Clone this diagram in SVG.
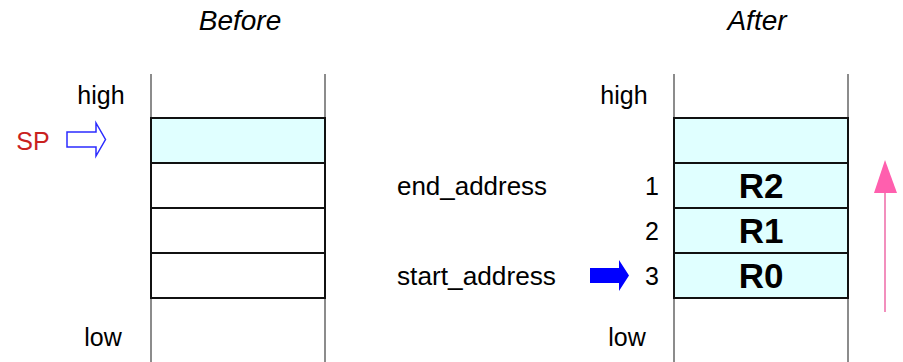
<svg xmlns="http://www.w3.org/2000/svg" width="903" height="362" viewBox="0 0 903 362">
<style>
.t{font-family:"Liberation Sans",Arial,sans-serif;font-size:25px;fill:#000}
.ti{font-family:"Liberation Sans",Arial,sans-serif;font-size:28px;font-style:italic;fill:#000}
.r{font-family:"Liberation Sans",Arial,sans-serif;font-size:35px;font-weight:bold;fill:#000}
.v{stroke:#666;stroke-width:1.5;fill:none}
.b{stroke:#111;stroke-width:2;fill:#fff}
.c{stroke:#111;stroke-width:2;fill:#e0ffff}
</style>
<rect width="903" height="362" fill="#fff"/>
<text class="ti" x="240" y="30" text-anchor="middle">Before</text>
<text class="ti" x="757" y="30" text-anchor="middle">After</text>
<g id="before-stack">
<line class="v" x1="151" y1="74" x2="151" y2="362"/>
<line class="v" x1="325" y1="74" x2="325" y2="362"/>
<rect class="c" x="151" y="118" width="174" height="45"/>
<rect class="b" x="151" y="163" width="174" height="45"/>
<rect class="b" x="151" y="208" width="174" height="45"/>
<rect class="b" x="151" y="253" width="174" height="45"/>
<text class="t" x="101" y="104" text-anchor="middle">high</text>
<text class="t" x="103" y="346" text-anchor="middle">low</text>
</g>
<g id="sp">
<text x="33" y="150" text-anchor="middle" style="font-family:'Liberation Sans',Arial,sans-serif;font-size:25px;fill:#c9211e">SP</text>
<polygon points="67,132 96,132 96,123 105.5,139.5 96,156 96,147 67,147" fill="#fff" stroke="#2b2bff" stroke-width="1.5"/>
</g>
<g id="after-stack">
<line class="v" x1="674" y1="74" x2="674" y2="362"/>
<line class="v" x1="848" y1="74" x2="848" y2="362"/>
<rect class="c" x="674" y="118" width="174" height="45"/>
<rect class="c" x="674" y="163" width="174" height="45"/>
<rect class="c" x="674" y="208" width="174" height="45"/>
<rect class="c" x="674" y="253" width="174" height="45"/>
<text class="r" x="761" y="198" text-anchor="middle">R2</text>
<text class="r" x="761" y="243" text-anchor="middle">R1</text>
<text class="r" x="761" y="288" text-anchor="middle">R0</text>
<text class="t" x="624" y="104" text-anchor="middle">high</text>
<text class="t" x="627" y="346" text-anchor="middle">low</text>
<text class="t" x="652" y="195" text-anchor="middle">1</text>
<text class="t" x="652" y="240" text-anchor="middle">2</text>
<text class="t" x="652" y="285" text-anchor="middle">3</text>
</g>
<g id="labels">
<text class="t" x="397" y="195" textLength="150" lengthAdjust="spacingAndGlyphs">end_address</text>
<text class="t" x="397" y="285" textLength="159" lengthAdjust="spacingAndGlyphs">start_address</text>
</g>
<g id="connectors">
<polygon points="590,268 619,268 619,260 629,275.5 619,291 619,283 590,283" fill="#0000ff"/>
<line x1="885" y1="312" x2="885" y2="192" stroke="#ee6aa7" stroke-width="1.5"/>
<polygon points="885,160 897,193 874,193" fill="#ff5fae"/>
</g>
</svg>
